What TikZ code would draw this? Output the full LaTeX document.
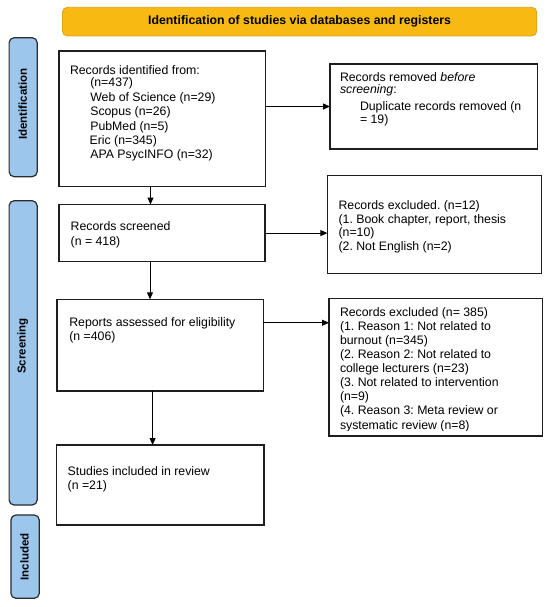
\documentclass[tikz,border=0pt]{standalone}
\usepackage{fontspec}
\setmainfont{Liberation Sans}
\usetikzlibrary{arrows.meta}
\definecolor{hdrfill}{HTML}{F8B913}
\definecolor{hdrline}{HTML}{D9A21C}
\definecolor{barfill}{HTML}{9DC6EC}
\definecolor{barline}{HTML}{2B2B2B}
\definecolor{boxline}{HTML}{1E1E1E}
\frenchspacing
\newcommand\rowl[1]{\hbox{#1}}
\newcommand\ind{\hspace*{20.3pt}}
\newcommand\textlines[2]{\vtop{\baselineskip=#1\relax\lineskiplimit=-1000pt\lineskip=0pt #2}}
\begin{document}
\begin{tikzpicture}[x=1pt,y=-1pt,
  font=\fontsize{12.3}{14.4}\selectfont,
  box/.style={draw=boxline, line width=1.2pt, fill=white, inner sep=0pt, outer sep=0pt},
  txt/.style={anchor=base west, inner sep=0pt, outer sep=0pt, text=black},
  arr/.style={-{Triangle[length=7pt,width=6pt]}, line width=1pt, black},
  bar/.style={draw=barline, fill=barfill, line width=1.2pt, rounded corners=5pt, inner sep=0pt},
  lab/.style={rotate=90, inner sep=0pt, font=\fontsize{11.5}{13}\selectfont\bfseries},
  hdr/.style={draw=hdrline, fill=hdrfill, line width=0.8pt, rounded corners=5pt, inner sep=0pt,
    font=\fontsize{12.3}{14}\selectfont\bfseries}]
\useasboundingbox (0,0) rectangle (550,607);

% header
\node[hdr, minimum width=474.4pt, minimum height=28.7pt] (hdr) at (299.6,21.65) {Identification of studies via databases and registers};

% side bars
\node[bar, minimum width=28.1pt, minimum height=139pt] (bid) at (23.15,107.2) {};
\node[lab] (lid) at (22.8,104) {Identification};
\node[bar, minimum width=28.1pt, minimum height=304.3pt] (bsc) at (23.15,352.85) {};
\node[lab] (lsc) at (22.8,346) {Screening};
\node[bar, minimum width=28.4pt, minimum height=83.3pt] (bin) at (25.1,556.65) {};
\node[lab] (lin) at (24.6,556.7) {Included};

% boxes
\node[box, minimum width=206.4pt, minimum height=135.7pt] (b1) at (162.1,118.85) {};
\node[box, minimum width=207.5pt, minimum height=85pt] (rem) at (433.75,106.5) {};
\node[box, minimum width=206pt, minimum height=57.2pt] (scr) at (162,233.1) {};
\node[box, minimum width=214pt, minimum height=97.6pt] (ex1) at (434.4,224.5) {};
\node[box, minimum width=206.3pt, minimum height=91.7pt] (rep) at (160.15,345.15) {};
\node[box, minimum width=213.5pt, minimum height=137.7pt] (ex2) at (435.75,367.15) {};
\node[box, minimum width=207.8pt, minimum height=80pt] (inc) at (160,485) {};

% texts
\node[txt] (t1) at (70,74.5) {\textlines{14.4pt}{%
  \rowl{Records identified from:}\vskip-2.1pt
  \rowl{\ind(n=437)}
  \rowl{\ind Web of Science (n=29)}
  \rowl{\ind Scopus (n=26)}
  \rowl{\ind PubMed (n=5)}
  \rowl{\hspace*{19.6pt}Eric (n=345)}
  \rowl{\ind APA PsycINFO (n=32)}}};
\node[txt] (trem) at (340,81.7) {\textlines{14.4pt}{%
  \rowl{Records removed \textit{before}}\vskip-2.5pt
  \rowl{\textit{screening}:}\vskip2.8pt
  \rowl{\hspace*{20pt}Duplicate records removed (n}\vskip-1.8pt
  \rowl{\hspace*{20pt}= 19)}}};
\node[txt] (tscr) at (70.7,230.7) {\textlines{14.3pt}{%
  \rowl{Records screened}
  \rowl{(n = 418)}}};
\node[txt] (tex1) at (338.6,209.5) {\textlines{13.6pt}{%
  \rowl{Records excluded. (n=12)}
  \rowl{(1. Book chapter, report, thesis}
  \rowl{(n=10)}
  \rowl{(2. Not English (n=2)}}};
\node[txt] (trep) at (69.3,326) {\textlines{14pt}{%
  \rowl{Reports assessed for eligibility}
  \rowl{(n =406)}}};
\begin{scope}
  \clip (330,299.5) rectangle (541.5,430.6);
  \node[txt] (tex2) at (340,316.7) {\textlines{14.04pt}{%
    \rowl{Records excluded (n= 385)}
    \rowl{(1. Reason 1: Not related to}
    \rowl{burnout (n=345)}
    \rowl{(2. Reason 2: Not related to}
    \rowl{college lecturers (n=23)}
    \rowl{(3. Not related to intervention}
    \rowl{(n=9)}
    \rowl{(4. Reason 3: Meta review or}
    \rowl{systematic review (n=8)}}};
\end{scope}
\node[txt] (tinc) at (67.7,475.5) {\textlines{14pt}{%
  \rowl{Studies included in review}
  \rowl{(n =21)}}};

% connectors
\coordinate (x1) at (150.5,0);
\coordinate (x2) at (150,0);
\coordinate (x3) at (152.6,0);
\draw[arr] (b1.east |- rem.west) -- (rem.west);
\draw[arr] (b1.south -| x1) -- (scr.north -| x1);
\draw[arr] (scr.east) -- (scr.east -| ex1.west);
\draw[arr] (scr.south -| x2) -- (rep.north -| x2);
\draw[arr] ([yshift=22.4pt]rep.east) coordinate (r3) -- (r3 -| ex2.west);
\draw[arr] (rep.south -| x3) -- (inc.north -| x3);
\end{tikzpicture}
\end{document}
